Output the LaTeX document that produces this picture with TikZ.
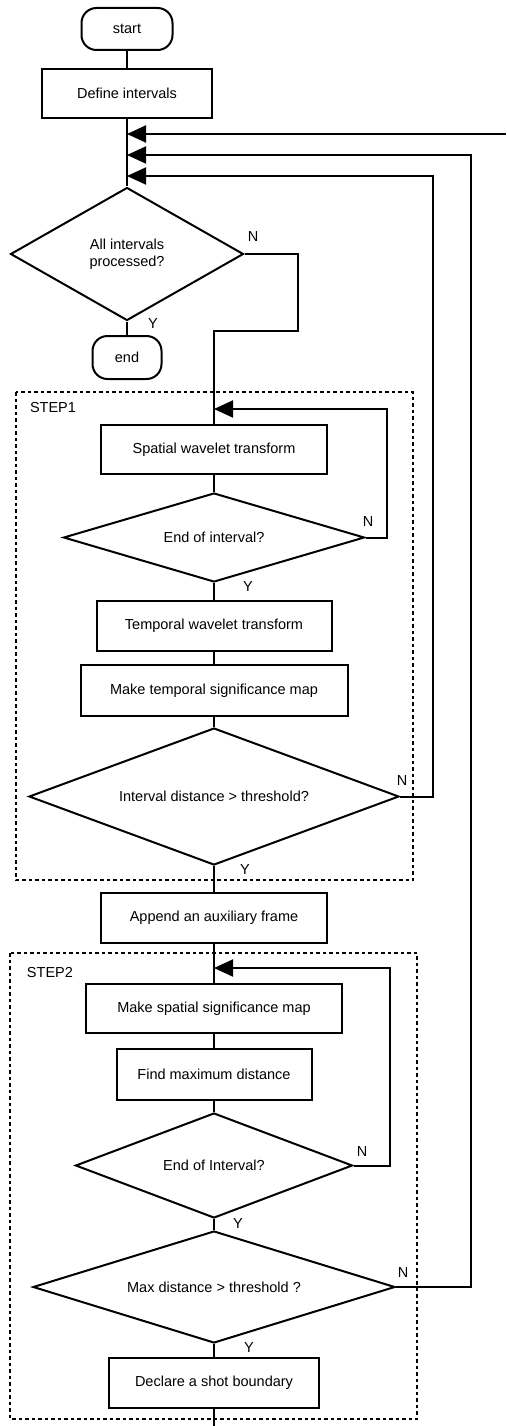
\documentclass[tikz,border=0pt]{standalone}
\usepackage{fontspec}
\setmainfont{Liberation Sans}
\usetikzlibrary{shapes.geometric,arrows.meta}
\begin{document}
\begin{tikzpicture}[x=1pt,y=-1pt,line width=2pt,
	font=\fontsize{14.5}{17}\selectfont,
	box/.style={draw,rectangle,inner sep=0pt},
	term/.style={draw,rectangle,rounded corners=15pt,inner sep=0pt},
	test/.style={draw,diamond,inner sep=0pt,align=center},
	frame/.style={dash pattern=on 3.5pt off 3pt},
	lbl/.style={inner sep=0pt},
	flow/.style={-{Triangle[length=19pt,width=17pt]}}]
	\useasboundingbox (0,0) rectangle (506,1426);
	\node[term,minimum width=91pt,minimum height=42pt] (start) at (127,29) {start};
	\node[box,minimum width=170pt,minimum height=49pt] (define) at (127,93.5) {Define intervals};
	\node[test,minimum width=233pt,minimum height=133pt,shape aspect=1.75] (q1) at (127,254) {All intervals\\processed?};
	\node[term,minimum width=69pt,minimum height=43pt] (end) at (127,357.5) {end};
	\node[box,minimum width=226pt,minimum height=49pt] (spatial) at (214,449.5) {Spatial wavelet transform};
	\node[test,minimum width=301pt,minimum height=89pt,shape aspect=3.4] (q2) at (214,537.5) {End of interval?};
	\node[box,minimum width=235pt,minimum height=50pt] (temporal) at (214,626) {Temporal wavelet transform};
	\node[box,minimum width=267pt,minimum height=51pt] (tmap) at (214,690.5) {Make temporal significance map};
	\node[test,minimum width=370pt,minimum height=137pt,shape aspect=2.7] (q3) at (214,796.5) {Interval distance > threshold?};
	\node[box,minimum width=226pt,minimum height=50pt] (append) at (214,918) {Append an auxiliary frame};
	\node[box,minimum width=256pt,minimum height=49pt] (smap) at (214,1008.5) {Make spatial significance map};
	\node[box,minimum width=195pt,minimum height=51pt] (findmax) at (214,1074.5) {Find maximum distance};
	\node[test,minimum width=277pt,minimum height=105pt,shape aspect=2.6] (q4) at (214,1165.5) {End of Interval?};
	\node[test,minimum width=362pt,minimum height=112pt,shape aspect=3.2] (q5) at (214,1287) {Max distance > threshold ?};
	\node[box,minimum width=210pt,minimum height=50pt] (declare) at (214,1383) {Declare a shot boundary};
	\draw[frame] (16,392) rectangle (413,880);
	\draw[frame] (10,953) rectangle (417,1419);
	\node[lbl,anchor=west] (step1) at (29,408) {STEP1};
	\node[lbl,anchor=west] (step2) at (26,972) {STEP2};
	\node[lbl] (n1) at (253,237) {N};
	\node[lbl] (y1) at (153,324) {Y};
	\node[lbl] (n2) at (368,522) {N};
	\node[lbl] (y2) at (248,587) {Y};
	\node[lbl] (n3) at (402,781) {N};
	\node[lbl] (y3) at (245,870) {Y};
	\node[lbl] (n4) at (362,1151) {N};
	\node[lbl] (y4) at (238,1223) {Y};
	\node[lbl] (n5) at (403,1272) {N};
	\node[lbl] (y5) at (249,1347) {Y};
	\coordinate (j1) at (127,134);
	\coordinate (j2) at (127,155);
	\coordinate (j3) at (127,176);
	\coordinate (back) at (506,134);
	\coordinate (loop1) at (214,409);
	\coordinate (loop2) at (214,968);
	\coordinate (out) at (214,1426);
	\draw (start) -- (define);
	\draw (define) -- (q1);
	\draw (q1.south) -- (end);
	\draw (q1.east) -| (298,331) -| (spatial.north);
	\draw (spatial) -- (q2);
	\draw (q2.south) -- (temporal);
	\draw (temporal) -- (tmap);
	\draw (tmap) -- (q3);
	\draw (q3.south) -- (append);
	\draw (append) -- (smap);
	\draw (smap) -- (findmax);
	\draw (findmax) -- (q4);
	\draw (q4.south) -- (q5.north);
	\draw (q5.south) -- (declare);
	\draw (declare) -- (out);
	\draw[flow] (q2.east) -| (387,409) -- (loop1);
	\draw[flow] (q4.east) -| (390,968) -- (loop2);
	\draw[flow] (back) -- (j1);
	\draw[flow] (q5.east) -| (471,155) -- (j2);
	\draw[flow] (q3.east) -| (433,176) -- (j3);
\end{tikzpicture}
\end{document}
